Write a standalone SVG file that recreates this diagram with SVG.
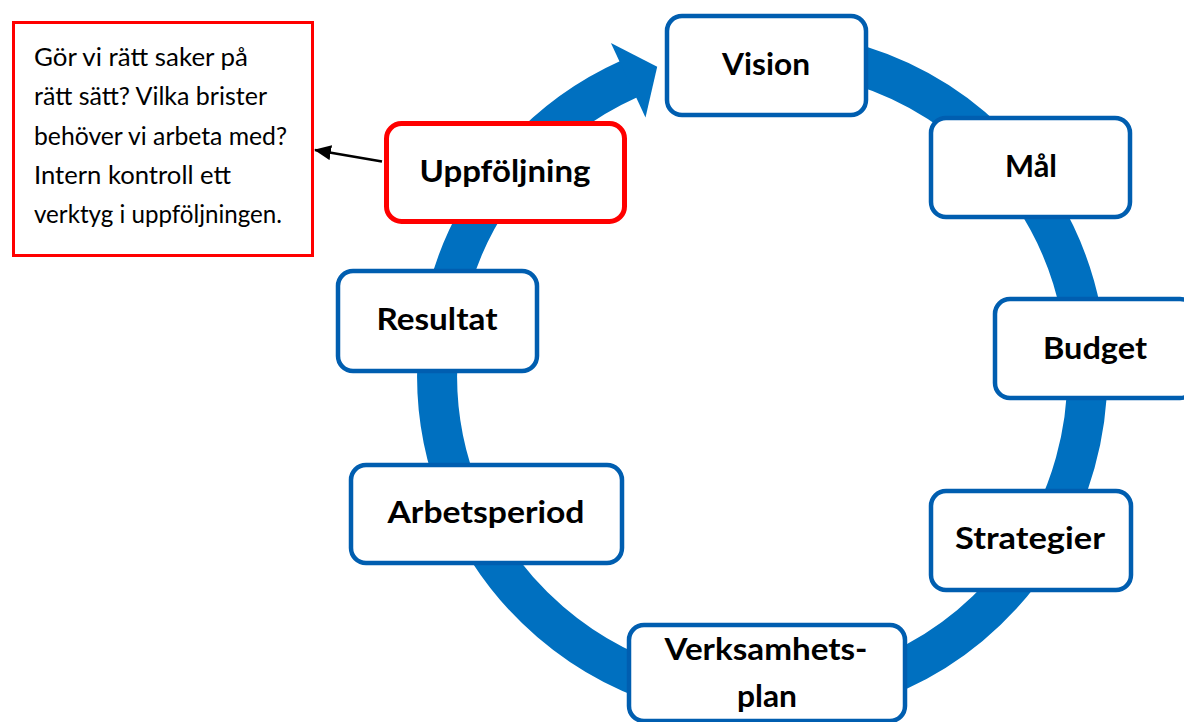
<svg xmlns="http://www.w3.org/2000/svg" width="1184" height="722" viewBox="0 0 1184 722">
<defs>
<style>
.node rect{fill:#fff;stroke:#005EB0;stroke-width:4.5}
.node.red rect{stroke:#FF0000;stroke-width:5}
.lbl{font-family:Lato,"Open Sans","DejaVu Sans",sans-serif;font-weight:bold;font-size:31px;fill:#000;text-anchor:middle}
.note{font-family:Lato,"Open Sans","DejaVu Sans",sans-serif;font-size:25px;fill:#000}
.ring{fill:none;stroke:#0070C0;stroke-width:40}
</style>
<marker id="ah" markerWidth="17" markerHeight="15" refX="16" refY="7.5" orient="auto" markerUnits="userSpaceOnUse" viewBox="0 0 17 15">
<path d="M0,0 L17,7.5 L0,15 Z" fill="#000"/>
</marker>
</defs>
<rect width="1184" height="722" fill="#fff"/>
<g id="connectors">
<path class="ring" d="M708.6,54.9 A325,325 0 1 1 629,79"/>
<polygon points="610.9,43 645.5,117.4 657.2,66.7" fill="#0070C0"/>
<line x1="382" y1="161.5" x2="315" y2="150" stroke="#000" stroke-width="2.6" marker-end="url(#ah)"/>
</g>
<g id="note">
<rect x="13.5" y="22.5" width="299" height="233" fill="#fff" stroke="#FF0000" stroke-width="3"/>
<text class="note" x="34" y="66" textLength="214" lengthAdjust="spacingAndGlyphs">Gör vi rätt saker på</text>
<text class="note" x="34" y="105.3" textLength="233" lengthAdjust="spacingAndGlyphs">rätt sätt? Vilka brister</text>
<text class="note" x="34" y="144.5" textLength="253" lengthAdjust="spacingAndGlyphs">behöver vi arbeta med?</text>
<text class="note" x="34" y="183.8" textLength="197" lengthAdjust="spacingAndGlyphs">Intern kontroll ett</text>
<text class="note" x="34" y="223" textLength="248" lengthAdjust="spacingAndGlyphs">verktyg i uppföljningen.</text>
</g>
<g id="vision" class="node"><rect x="667" y="16" width="199" height="99" rx="15"/><text class="lbl" x="766" y="75" textLength="88" lengthAdjust="spacingAndGlyphs">Vision</text></g>
<g id="mal" class="node"><rect x="931" y="118" width="199" height="99" rx="15"/><text class="lbl" x="1031" y="177" textLength="52" lengthAdjust="spacingAndGlyphs">Mål</text></g>
<g id="budget" class="node"><rect x="995" y="299" width="200" height="99" rx="15"/><text class="lbl" x="1095" y="359" textLength="104" lengthAdjust="spacingAndGlyphs">Budget</text></g>
<g id="strategier" class="node"><rect x="931" y="491" width="200" height="99" rx="15"/><text class="lbl" x="1030" y="549" textLength="150" lengthAdjust="spacingAndGlyphs">Strategier</text></g>
<g id="verksamhetsplan" class="node"><rect x="629" y="625" width="276" height="96" rx="15"/><text class="lbl" x="766" y="660" textLength="203" lengthAdjust="spacingAndGlyphs">Verksamhets-</text><text class="lbl" x="767" y="707" textLength="60" lengthAdjust="spacingAndGlyphs">plan</text></g>
<g id="arbetsperiod" class="node"><rect x="351" y="465" width="271" height="98" rx="15"/><text class="lbl" x="486" y="523" textLength="197" lengthAdjust="spacingAndGlyphs">Arbetsperiod</text></g>
<g id="resultat" class="node"><rect x="338" y="271" width="199" height="100" rx="15"/><text class="lbl" x="437" y="330" textLength="121" lengthAdjust="spacingAndGlyphs">Resultat</text></g>
<g id="uppfoljning" class="node red"><rect x="386.5" y="123.5" width="238" height="98" rx="15"/><text class="lbl" x="505" y="182" textLength="171" lengthAdjust="spacingAndGlyphs">Uppföljning</text></g>
</svg>
